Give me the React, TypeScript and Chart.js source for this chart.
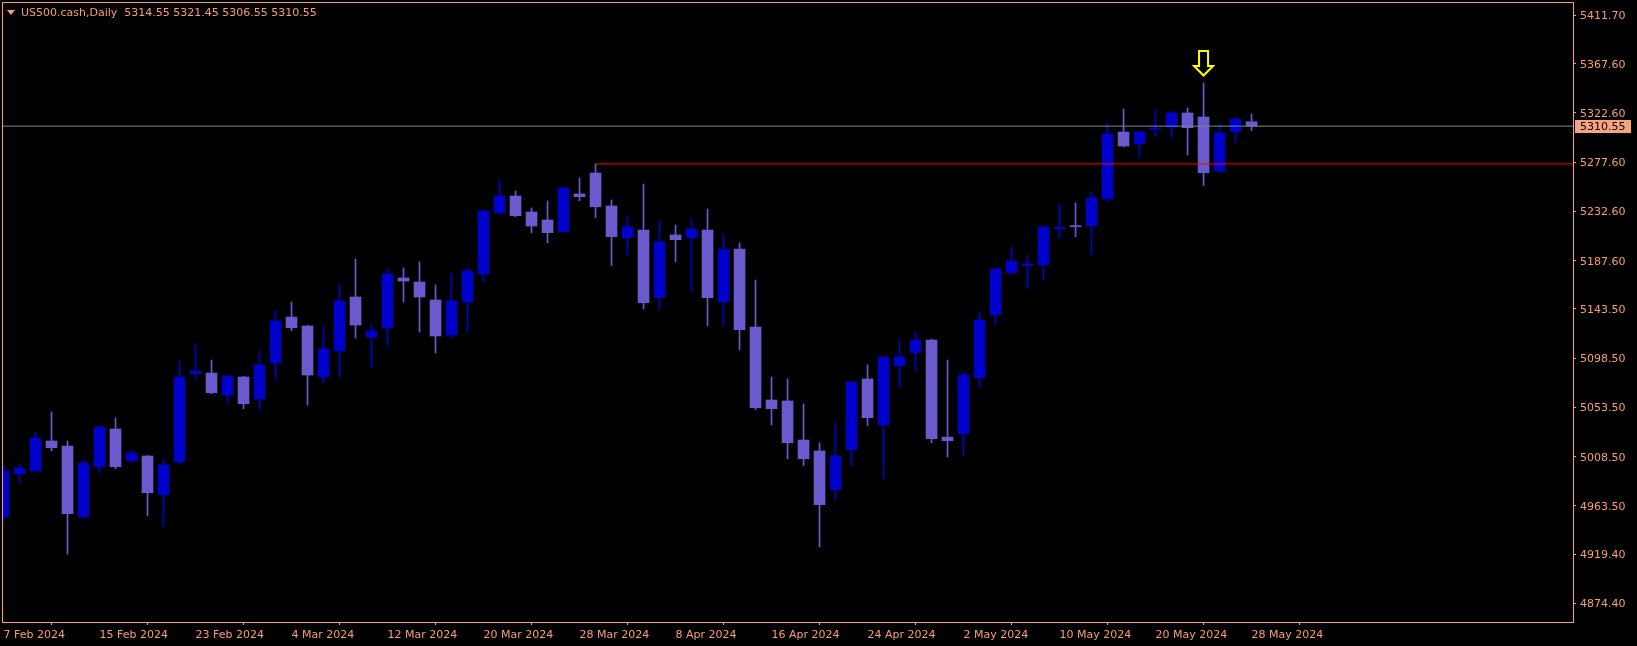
import React, { useEffect, useRef } from "react";
import { Chart, registerables } from "chart.js";
Chart.register(...registerables);

const symbolTitle = "US500.cash,Daily";
const lastQuote = [5314.55, 5321.45, 5306.55, 5310.55];

const dates = [
  "2024-02-07","2024-02-08","2024-02-09","2024-02-12","2024-02-13","2024-02-14","2024-02-15","2024-02-16","2024-02-19","2024-02-20",
  "2024-02-21","2024-02-22","2024-02-23","2024-02-26","2024-02-27","2024-02-28","2024-02-29","2024-03-01","2024-03-04","2024-03-05",
  "2024-03-06","2024-03-07","2024-03-08","2024-03-11","2024-03-12","2024-03-13","2024-03-14","2024-03-15","2024-03-18","2024-03-19",
  "2024-03-20","2024-03-21","2024-03-22","2024-03-25","2024-03-26","2024-03-27","2024-03-28","2024-04-01","2024-04-02","2024-04-03",
  "2024-04-04","2024-04-05","2024-04-08","2024-04-09","2024-04-10","2024-04-11","2024-04-12","2024-04-15","2024-04-16","2024-04-17",
  "2024-04-18","2024-04-19","2024-04-22","2024-04-23","2024-04-24","2024-04-25","2024-04-26","2024-04-29","2024-04-30","2024-05-01",
  "2024-05-02","2024-05-03","2024-05-06","2024-05-07","2024-05-08","2024-05-09","2024-05-10","2024-05-13","2024-05-14","2024-05-15",
  "2024-05-16","2024-05-17","2024-05-20","2024-05-21","2024-05-22","2024-05-23","2024-05-24","2024-05-27","2024-05-28",
];

const opens = [
  4953.6, 4992.9, 4995.4, 5022.8, 5018.2, 4953.6, 4999.3, 5033.8, 5004.8, 5009.1,
  4973.7, 5003.9, 5084.3, 5084.9, 5064.8, 5081.3, 5061.2, 5094.1, 5136.1, 5127.9,
  5081.3, 5105.1, 5154.4, 5117.8, 5126.3, 5171.8, 5168.1, 5151.7, 5119.7, 5149.8,
  5175.4, 5231.2, 5246.7, 5232.1, 5224.8, 5214.1, 5248.6, 5267.7, 5237.6, 5208.6,
  5215.6, 5153.8, 5211.1, 5208.6, 5215.6, 5150.1, 5198.3, 5127.0, 5060.3, 5059.4,
  5023.7, 5013.7, 4978.3, 5014.8, 5079.5, 5037.4, 5091.6, 5103.5, 5115.1, 5026.4,
  5029.5, 5080.6, 5138.0, 5176.3, 5183.0, 5183.7, 5216.8, 5219.3, 5219.6, 5244.0,
  5305.2, 5294.5, 5307.9, 5309.8, 5322.6, 5318.9, 5269.6, 5305.5, 5314.55,
];

const highs = [
  5000.2, 5002.0, 5031.0, 5049.3, 5022.8, 5005.4, 5036.5, 5043.8, 5014.6, 5009.6,
  5006.3, 5095.9, 5111.5, 5096.8, 5083.1, 5082.0, 5105.1, 5141.6, 5149.8, 5128.5,
  5128.8, 5166.3, 5189.1, 5128.8, 5180.0, 5180.9, 5186.4, 5165.4, 5176.3, 5180.9,
  5234.8, 5262.3, 5251.3, 5235.8, 5242.2, 5254.9, 5263.2, 5276.0, 5243.1, 5228.4,
  5257.7, 5223.9, 5220.2, 5225.7, 5234.8, 5212.0, 5203.8, 5169.9, 5081.3, 5079.5,
  5056.6, 5021.0, 5040.2, 5077.2, 5092.3, 5100.1, 5115.1, 5122.4, 5116.0, 5096.8,
  5085.9, 5140.7, 5180.9, 5200.1, 5192.8, 5220.2, 5239.4, 5240.3, 5250.4, 5313.4,
  5326.2, 5306.1, 5325.3, 5324.4, 5327.2, 5350.0, 5312.5, 5318.0, 5321.45,
];

const lows = [
  4949.9, 4984.7, 4994.5, 5013.9, 4919.5, 4951.8, 4993.8, 4997.5, 5003.0, 4954.5,
  4944.5, 5001.1, 5079.7, 5066.0, 5057.1, 5052.3, 5051.1, 5079.5, 5123.6, 5055.7,
  5075.8, 5081.3, 5116.9, 5090.4, 5109.6, 5149.8, 5122.4, 5103.2, 5116.9, 5121.5,
  5168.1, 5230.5, 5227.8, 5213.2, 5204.0, 5213.2, 5242.4, 5226.9, 5183.0, 5192.2,
  5143.7, 5142.8, 5186.7, 5159.3, 5128.2, 5128.2, 5106.2, 5051.4, 5037.7, 5006.6,
  5000.2, 4926.2, 4969.1, 5000.2, 5036.8, 4988.3, 5071.5, 5086.8, 5021.2, 5008.4,
  5009.4, 5071.5, 5128.8, 5175.7, 5162.0, 5170.2, 5208.6, 5209.5, 5193.1, 5241.5,
  5291.5, 5282.6, 5300.9, 5300.0, 5284.2, 5256.1, 5268.0, 5295.4, 5306.55,
];

const closes = [
  4995.4, 4998.1, 5025.5, 5016.7, 4956.3, 5002.7, 5035.6, 4999.3, 5011.8, 4975.5,
  5000.9, 5081.3, 5086.8, 5066.9, 5082.2, 5056.9, 5092.3, 5132.5, 5126.3, 5083.1,
  5106.9, 5150.8, 5128.8, 5123.3, 5175.4, 5169.0, 5154.4, 5118.8, 5150.8, 5178.2,
  5233.0, 5246.7, 5228.7, 5219.3, 5213.2, 5254.0, 5246.1, 5236.9, 5209.5, 5218.4,
  5149.2, 5204.7, 5206.8, 5216.6, 5153.8, 5198.0, 5124.5, 5053.2, 5052.3, 5021.2,
  5006.6, 4964.6, 5009.1, 5076.7, 5044.1, 5099.6, 5099.6, 5115.1, 5024.9, 5023.1,
  5083.1, 5133.4, 5180.0, 5187.3, 5184.6, 5218.4, 5218.1, 5218.7, 5244.9, 5303.4,
  5292.4, 5305.2, 5308.9, 5322.6, 5309.1, 5268.0, 5304.3, 5317.1, 5310.55,
];

const xTickIndex = [0, 6, 12, 18, 24, 30, 36, 42, 48, 54, 60, 66, 72, 78];
const xTickLabels = [
  "7 Feb 2024", "15 Feb 2024", "23 Feb 2024", "4 Mar 2024", "12 Mar 2024", "20 Mar 2024", "28 Mar 2024",
  "8 Apr 2024", "16 Apr 2024", "24 Apr 2024", "2 May 2024", "10 May 2024", "20 May 2024", "28 May 2024",
];
const yTicks = [4874.4, 4919.4, 4963.5, 5008.5, 5053.5, 5098.5, 5143.5, 5187.6, 5232.6, 5277.6, 5322.6, 5367.6, 5411.7];

const resistanceFromIndex = 37;
const signalIndex = 75;
const xMin = -0.094;
const xMax = 98.09;
const yMin = 4857.4;
const yMax = 5424.0;

const BULL = "#0000CD";
const BEAR = "#6A5ACD";
const FG = "#F89E72";
const FONT = "'DejaVu Sans', sans-serif";

export default function App() {
  const ref = useRef<HTMLCanvasElement | null>(null);

  useEffect(() => {
    const canvas = ref.current;
    if (!canvas) return;
    const colors = opens.map((o, i) => (closes[i] >= o ? BULL : BEAR));
    const lastClose = closes[closes.length - 1];
    const resistance = highs[resistanceFromIndex];

    const overlay = {
      id: "mt4overlay",
      afterDraw(chart: any) {
        const { ctx, chartArea, scales } = chart;
        const xs = scales.x;
        const ys = scales.y;
        ctx.save();
        ctx.strokeStyle = FG;
        ctx.lineWidth = 1;
        ctx.strokeRect(chartArea.left + 0.5, chartArea.top + 0.5, chartArea.right - chartArea.left, chartArea.bottom - chartArea.top);
        const py = Math.round(ys.getPixelForValue(lastClose));
        ctx.fillStyle = "#F9A27C";
        ctx.fillRect(chartArea.right + 2, py - 6, 56, 13);
        ctx.fillStyle = "#000000";
        ctx.font = "11px " + FONT;
        ctx.textBaseline = "middle";
        ctx.textAlign = "left";
        ctx.fillText(lastClose.toFixed(2), chartArea.right + 7, py + 1);
        const cx = xs.getPixelForValue(signalIndex);
        const tip = ys.getPixelForValue(highs[signalIndex]) - 7.5;
        ctx.strokeStyle = "#FFFF00";
        ctx.lineWidth = 2;
        ctx.lineJoin = "miter";
        ctx.beginPath();
        ctx.moveTo(cx, tip);
        ctx.lineTo(cx - 9.5, tip - 9.5);
        ctx.lineTo(cx - 4.5, tip - 9.5);
        ctx.lineTo(cx - 4.5, tip - 24.5);
        ctx.lineTo(cx + 4.5, tip - 24.5);
        ctx.lineTo(cx + 4.5, tip - 9.5);
        ctx.lineTo(cx + 9.5, tip - 9.5);
        ctx.closePath();
        ctx.stroke();
        ctx.restore();
      },
    };

    const zeroPad = (scale: any) => {
      scale.paddingTop = 0;
      scale.paddingBottom = 0;
      scale.paddingLeft = 0;
      scale.paddingRight = 0;
    };

    const chart = new Chart(canvas, {
      type: "bar",
      data: {
        datasets: [
          {
            type: "line",
            data: [{ x: resistanceFromIndex, y: resistance }, { x: xMax, y: resistance }],
            borderColor: "#FF0000",
            borderWidth: 1,
            pointRadius: 0,
            order: 0,
          } as any,
          {
            type: "line",
            data: [{ x: xMin, y: lastClose }, { x: xMax, y: lastClose }],
            borderColor: "#778899",
            borderWidth: 1,
            pointRadius: 0,
            order: 1,
          } as any,
          {
            type: "bar",
            data: dates.map((_, i) => ({ x: i, y: [opens[i], closes[i]] })),
            backgroundColor: colors,
            borderWidth: 0,
            barThickness: 11,
            minBarLength: 1,
            grouped: false,
            order: 2,
          } as any,
          {
            type: "bar",
            data: dates.map((_, i) => ({ x: i, y: [lows[i], highs[i]] })),
            backgroundColor: colors,
            borderWidth: 0,
            barThickness: 1,
            minBarLength: 1,
            grouped: false,
            order: 3,
          } as any,
        ],
      },
      options: {
        animation: false,
        responsive: false,
        maintainAspectRatio: false,
        layout: { padding: { left: 2, top: 2, right: 0, bottom: 0 } },
        plugins: { legend: { display: false }, tooltip: { enabled: false } },
        scales: {
          x: {
            type: "linear",
            min: xMin,
            max: xMax,
            offset: false,
            grid: { display: true, drawOnChartArea: false, drawTicks: true, tickLength: 3, color: FG },
            border: { display: false },
            afterBuildTicks: (scale: any) => {
              scale.ticks = xTickIndex.map((v) => ({ value: v }));
            },
            afterFit: (scale: any) => {
              scale.height = 24;
              zeroPad(scale);
            },
            ticks: {
              autoSkip: false,
              maxRotation: 0,
              align: "start",
              padding: 4,
              color: FG,
              font: { family: FONT, size: 11 },
              callback: (v: any) => {
                const k = xTickIndex.indexOf(Number(v));
                return k >= 0 ? xTickLabels[k] : "";
              },
            },
          },
          y: {
            type: "linear",
            position: "right",
            min: yMin,
            max: yMax,
            grid: { display: true, drawOnChartArea: false, drawTicks: true, tickLength: 3, color: FG },
            border: { display: false },
            afterBuildTicks: (scale: any) => {
              scale.ticks = yTicks.map((v) => ({ value: v }));
            },
            afterFit: (scale: any) => {
              scale.width = 64;
              zeroPad(scale);
            },
            ticks: {
              padding: 4,
              labelOffset: 1,
              color: FG,
              font: { family: FONT, size: 11 },
              callback: (v: any) => Number(v).toFixed(2),
            },
          },
        },
      },
      plugins: [overlay],
    } as any);
    return () => chart.destroy();
  }, []);

  return (
    <div style={{ position: "fixed", left: 0, top: 0, width: 1637, height: 646, background: "#000" }}>
      <canvas ref={ref} width={1637} height={646} style={{ display: "block" }} />
      <div
        style={{
          position: "absolute",
          left: 7,
          top: 10,
          width: 0,
          height: 0,
          borderLeft: "4px solid transparent",
          borderRight: "4px solid transparent",
          borderTop: "5px solid " + FG,
        }}
      />
      <div
        style={{
          position: "absolute",
          left: 21,
          top: 5,
          font: "11px " + FONT,
          lineHeight: "15px",
          color: FG,
          whiteSpace: "pre",
        }}
      >
        {symbolTitle + "  " + lastQuote.map((v) => v.toFixed(2)).join(" ")}
      </div>
    </div>
  );
}
